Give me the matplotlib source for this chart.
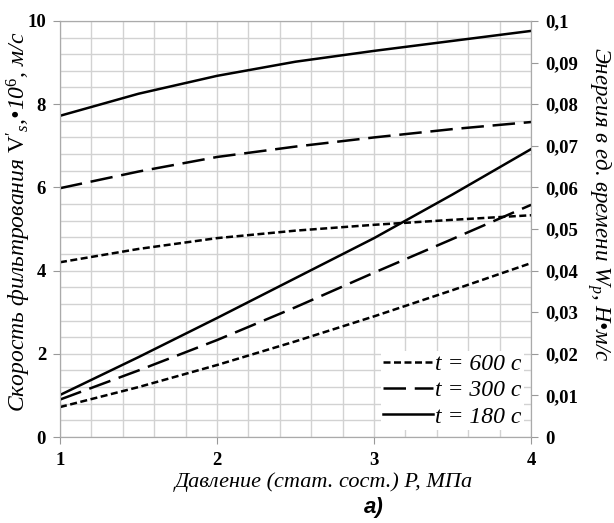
import numpy as np
import matplotlib.pyplot as plt

# ---------- DATA ----------
pressure = [1.0, 1.5, 2.0, 2.5, 3.0, 3.5, 4.0]

# filtration velocity V's*10^6, m/s (left axis)
v_600 = [4.20, 4.52, 4.78, 4.96, 5.10, 5.22, 5.33]
v_300 = [5.98, 6.38, 6.73, 6.98, 7.20, 7.40, 7.57]
v_180 = [7.72, 8.25, 8.68, 9.02, 9.28, 9.52, 9.76]

# energy per unit time Wp, N*m/s (right axis)
w_600 = [0.0072, 0.0120, 0.0173, 0.0230, 0.0290, 0.0353, 0.0418]
w_300 = [0.0090, 0.0160, 0.0233, 0.0312, 0.0395, 0.0476, 0.0558]
w_180 = [0.0101, 0.0192, 0.0286, 0.0382, 0.0478, 0.0583, 0.0692]

labels = ["t = 600 с", "t = 300 с", "t = 180 с"]

# ---------- STYLE ----------
plt.rcParams['font.family'] = ['Liberation Serif', 'DejaVu Serif']
plt.rcParams['mathtext.fontset'] = 'custom'
plt.rcParams['mathtext.rm'] = 'Liberation Serif'
plt.rcParams['mathtext.it'] = 'Liberation Serif:italic'

grid_c = '#d2d2d2'
dot_dash = (2.8, 1.4)
long_dash = (9, 3.5)
lw = 1.8

fig = plt.figure(figsize=(6.14, 5.23), dpi=100)
ax = fig.add_axes([0.0977, 0.1644, 0.7673, 0.7956])
ax2 = ax.twinx()

ax.plot(pressure, v_600, color='black', lw=lw, dashes=dot_dash)
ax.plot(pressure, v_300, color='black', lw=lw, dashes=long_dash)
ax.plot(pressure, v_180, color='black', lw=lw)

h1, = ax2.plot(pressure, w_600, color='black', lw=lw, dashes=dot_dash)
h2, = ax2.plot(pressure, w_300, color='black', lw=lw, dashes=long_dash)
h3, = ax2.plot(pressure, w_180, color='black', lw=lw)

ax.set_xlim(1, 4)
ax.set_ylim(0, 10)
ax2.set_ylim(0, 0.1)

ax.set_xticks([1, 2, 3, 4])
ax.set_yticks([0, 2, 4, 6, 8, 10])
ax2.set_yticks(np.arange(0, 0.101, 0.01))
ax2.set_yticklabels(['0'] + [f"{v:.2f}".replace('.', ',') for v in np.arange(0.01, 0.091, 0.01)] + ['0,1'])

# grid every 0.2 on x, 0.4 on y
ax.set_xticks(np.arange(1, 4.01, 0.2), minor=True)
ax.set_yticks(np.arange(0, 10.01, 0.4), minor=True)
ax.grid(True, which='both', color=grid_c, lw=1)
ax.set_axisbelow(True)
ax.tick_params(which='minor', length=0)

for a in (ax, ax2):
    a.tick_params(which='major', direction='out', length=5, color='#999999',
                  labelsize=13.5, pad=5)
    for lab in a.get_xticklabels() + a.get_yticklabels():
        lab.set_fontweight('bold')
    for s in a.spines.values():
        s.set_color('#aaaaaa')
ax.tick_params(axis='x', pad=6)

ax.set_xlabel("Давление (стат. сост.) P, МПа", fontsize=16, style='italic')
ax.xaxis.set_label_coords(0.56, -0.085)
ax.set_ylabel("Скорость фильтрования $\\mathrm{V}'_{s}$,•10$^6$, м/с", fontsize=17,
              style='italic', va='center')
ax.yaxis.set_label_coords(-0.087, 0.517)
ax2.set_ylabel("Энергия в ед. времени W$_р$, Н•м/с", fontsize=16.5, style='italic',
               rotation=270, va='center')
ax2.yaxis.set_label_coords(1.143, 0.56)

leg = ax2.legend([h1, h2, h3], labels, loc='lower right', frameon=True,
                 facecolor='white', edgecolor='none', framealpha=1,
                 fancybox=False, handlelength=2.1, handletextpad=0.1,
                 borderpad=0.1, labelspacing=0.2, borderaxespad=0.3,
                 prop={'family': 'Liberation Serif', 'style': 'italic', 'size': 17})

fig.text(0.0977 + 0.7673 * 0.665, 0.01, "а)", ha='center', va='bottom',
         fontsize=16, fontweight='bold', style='italic', family='Liberation Sans')

plt.savefig("out.png", dpi=100)
